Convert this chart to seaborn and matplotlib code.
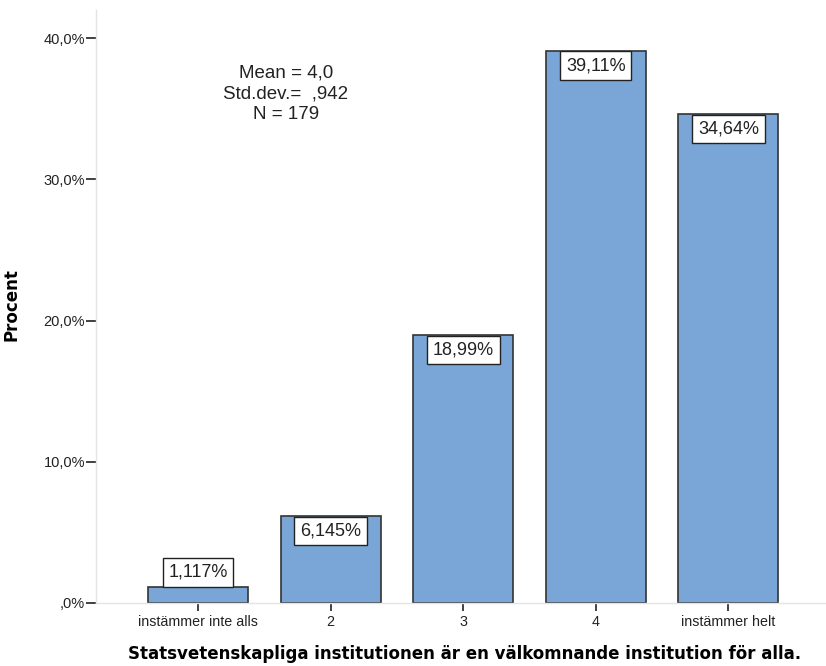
import matplotlib
matplotlib.use("Agg")
import matplotlib.pyplot as plt
import seaborn as sns
import pandas as pd

categories = ["instämmer inte alls", "2", "3", "4", "instämmer helt"]
percents = [1.117, 6.145, 18.99, 39.11, 34.64]
value_labels = ["1,117%", "6,145%", "18,99%", "39,11%", "34,64%"]
yticks = [0, 10, 20, 30, 40]
ytick_labels = [",0%", "10,0%", "20,0%", "30,0%", "40,0%"]
stats_text = "Mean = 4,0\nStd.dev.=  ,942\nN = 179"
xlabel = "Statsvetenskapliga institutionen är en välkomnande institution för alla."
ylabel = "Procent"

sns.set_style("white")
plt.rcParams['font.family'] = ['Liberation Sans', 'DejaVu Sans']

df = pd.DataFrame({"cat": categories, "pct": percents})

fig = plt.figure(figsize=(8.26, 6.66), dpi=100)
ax = fig.add_axes([96/826, 63/666, 730/826, 593/666])

sns.barplot(data=df, x="cat", y="pct", order=categories, color="#79A6D6",
            saturation=1, width=0.755, edgecolor="#333333", linewidth=1.2, ax=ax)

ax.set_xlim(-0.769, 4.736)
ax.set_ylim(0, 42.0)
ax.set_yticks(yticks)
ax.set_yticklabels(ytick_labels, fontsize=10.5, color="#222222")
ax.set_xticks(range(len(categories)))
ax.set_xticklabels(categories, fontsize=10.3, color="#222222")

ax.tick_params(axis="y", left=True, direction="out", length=7, width=1.3, color="#333333", pad=1)
ax.tick_params(axis="x", bottom=True, direction="out", length=6, width=1.3, color="#333333", pad=3)

for s in ["top", "right"]:
    ax.spines[s].set_visible(False)
for s in ["left", "bottom"]:
    ax.spines[s].set_color("#e4e4e4")
    ax.spines[s].set_linewidth(1.0)

fs = 13
pad = 0.32
pad_pt = pad * fs
for i, (v, lab) in enumerate(zip(percents, value_labels)):
    if v < 3:
        ax.annotate(lab, xy=(i, v), xytext=(0, pad_pt + 0.5), textcoords="offset points",
                    ha="center", va="bottom", fontsize=fs, color="#222222",
                    bbox=dict(boxstyle=f"square,pad={pad}", fc="white", ec="#222222", lw=1))
    else:
        ax.annotate(lab, xy=(i, v), xytext=(0, -pad_pt - 0.5), textcoords="offset points",
                    ha="center", va="top", fontsize=fs, color="#222222",
                    bbox=dict(boxstyle=f"square,pad={pad}", fc="white", ec="#222222", lw=1))

ax.text(0.260, 0.908, stats_text, transform=ax.transAxes, ha="center", va="top",
        fontsize=13.5, color="#222222", multialignment="center", linespacing=1.3)

ax.set_xlabel(xlabel, fontsize=12, fontweight="bold", family="DejaVu Sans", color="black")
ax.set_ylabel(ylabel, fontsize=12, fontweight="bold", family="DejaVu Sans", color="black")
ax.xaxis.set_label_coords(0.505, -0.071)
ax.yaxis.set_label_coords(-0.104, 0.5025)

fig.savefig("out.png", dpi=100)
